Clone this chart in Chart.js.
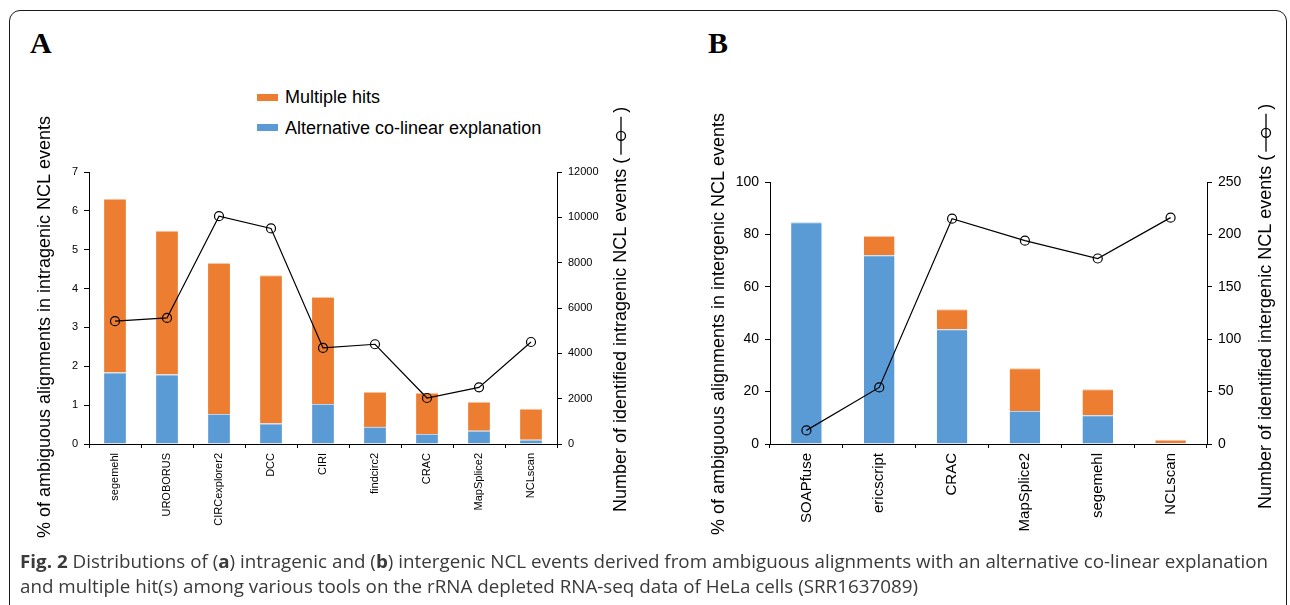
<!DOCTYPE html>
<html lang="en">
<head>
<meta charset="utf-8">
<title>Fig. 2</title>
<script src="https://cdn.jsdelivr.net/npm/chart.js@4.4.1/dist/chart.umd.min.js"></script>
<style>
    body { margin: 0; width: 1290px; height: 605px; overflow: hidden; position: relative; background: #fff; font-family: "Liberation Sans", Arial, sans-serif; color: #000; }
    #moldura { position: absolute; left: 9px; top: 10px; width: 1278px; height: 650px; border: 1.5px solid #1a1a1a; border-radius: 11px; box-sizing: border-box; }
    .letra { position: absolute; top: 28px; font-family: "Liberation Serif", "Times New Roman", serif; font-weight: bold; font-size: 30px; line-height: 30px; }
    .caixa { position: absolute; top: 100px; }
    .cor { position: absolute; left: 257px; width: 21px; height: 7px; }
    .rotulo { position: absolute; left: 285px; font-size: 18px; line-height: 20px; white-space: nowrap; }
    .legenda-fig { position: absolute; left: 20px; font-family: "Open Sans", sans-serif; font-size: 18px; line-height: 25px; color: #3a3a3a; white-space: nowrap; transform-origin: left center; }
</style>
</head>
<body>
<div id="moldura"></div>
<div class="letra" style="left:30px">A</div>
<div class="letra" style="left:708px">B</div>

<!-- legenda do painel A -->
<div class="cor" style="top:94px;background:#ED7D31"></div>
<div class="rotulo" style="top:87px">Multiple hits</div>
<div class="cor" style="top:124px;background:#5B9BD5"></div>
<div class="rotulo" style="top:118px">Alternative co-linear explanation</div>

<canvas id="graficoA" width="650" height="450" class="caixa" style="left:0"></canvas>
<canvas id="graficoB" width="640" height="450" class="caixa" style="left:650px"></canvas>

<div id="fig1" class="legenda-fig" style="top:549px"><b>Fig. 2</b> Distributions of (<b>a</b>) intragenic and (<b>b</b>) intergenic NCL events derived from ambiguous alignments with an alternative co-linear explanation</div>
<div id="fig2" class="legenda-fig" style="top:574px">and multiple hit(s) among various tools on the rRNA depleted RNA-seq data of HeLa cells (SRR1637089)</div>

<script>
// painel A - eventos intragênicos
const ferramentasA = ['segemehl', 'UROBORUS', 'CIRCexplorer2', 'DCC', 'CIRI', 'findcirc2', 'CRAC', 'MapSplice2', 'NCLscan'];
const colinearA = [1.84, 1.79, 0.77, 0.53, 1.03, 0.44, 0.26, 0.34, 0.11];
const multiplosA = [4.47, 3.70, 3.89, 3.81, 2.75, 0.90, 1.06, 0.75, 0.80];
const eventosA = [5420, 5560, 10050, 9510, 4240, 4400, 2030, 2500, 4500];
const ticksPctA = [0, 1, 2, 3, 4, 5, 6, 7];
const ticksEventosA = [0, 2000, 4000, 6000, 8000, 10000, 12000];

// painel B - eventos intergênicos
const ferramentasB = ['SOAPfuse', 'ericscript', 'CRAC', 'MapSplice2', 'segemehl', 'NCLscan'];
const colinearB = [84.6, 72.0, 43.8, 12.6, 11.0, 0.3];
const multiplosB = [0, 7.4, 7.6, 16.3, 9.9, 1.3];
const eventosB = [13, 54, 215, 194, 177, 216];
const ticksPctB = [0, 20, 40, 60, 80, 100];
const ticksEventosB = [0, 50, 100, 150, 200, 250];

const LARANJA = '#ED7D31';
const AZUL = '#5B9BD5';
const FONTE = '"Liberation Sans", Arial, sans-serif';

// desenha os títulos dos eixos (o da direita lê de baixo pra cima, com o símbolo da linha)
const titulosEixos = {
    id: 'titulosEixos',
    afterDraw(chart, args, opts) {
        const ctx = chart.ctx;
        ctx.save();
        ctx.fillStyle = '#000';
        ctx.font = '18px ' + FONTE;
        ctx.translate(opts.xEsq, opts.yEsq);
        ctx.rotate(-Math.PI / 2);
        ctx.textAlign = 'center';
        ctx.textBaseline = 'middle';
        ctx.fillText(opts.textoEsq, 0, 0);
        ctx.restore();

        ctx.save();
        ctx.fillStyle = '#000';
        ctx.strokeStyle = '#000';
        ctx.font = '18px ' + FONTE;
        ctx.translate(opts.xDir, opts.yDir);
        ctx.rotate(-Math.PI / 2);
        ctx.textAlign = 'left';
        ctx.textBaseline = 'middle';
        const texto = opts.textoDir + ' (';
        ctx.fillText(texto, 0, 0);
        const x = ctx.measureText(texto).width + 3;
        ctx.lineWidth = 1.3;
        ctx.beginPath();
        ctx.moveTo(x, 0);
        ctx.lineTo(x + 38, 0);
        ctx.stroke();
        ctx.beginPath();
        ctx.arc(x + 19, 0, 4.5, 0, Math.PI * 2);
        ctx.stroke();
        ctx.fillText(')', x + 42, 0);
        ctx.restore();
    }
};

function eixoY(posicao, valores, largura, tamFonte, empilhado) {
    return {
        position: posicao,
        stacked: empilhado,
        min: valores[0],
        max: valores[valores.length - 1],
        afterBuildTicks: function (s) {
            s.ticks = valores.map(v => ({ value: v }));
        },
        afterFit: function (s) {
            s.width = largura;
        },
        grid: { drawOnChartArea: false, drawTicks: true, tickLength: 5, color: '#000' },
        border: { color: '#000', width: 1 },
        ticks: {
            color: '#000',
            padding: 6,
            font: { family: FONTE, size: tamFonte },
            callback: v => String(v)
        }
    };
}

function montarGrafico(id, p) {
    var ctx = document.getElementById(id).getContext('2d');
    return new Chart(ctx, {
        type: 'bar',
        data: {
            labels: p.ferramentas,
            datasets: [
                {
                    type: 'line',
                    label: 'Number of identified NCL events',
                    data: p.eventos,
                    yAxisID: 'y1',
                    order: 0,
                    borderColor: '#000',
                    borderWidth: 1.2,
                    pointRadius: 4.5,
                    pointBorderWidth: 1.2,
                    pointBackgroundColor: 'rgba(0,0,0,0)',
                    pointBorderColor: '#000',
                    tension: 0
                },
                {
                    label: 'Alternative co-linear explanation',
                    data: p.colinear,
                    yAxisID: 'y',
                    order: 1,
                    backgroundColor: AZUL,
                    borderColor: '#B7D2EE',
                    borderWidth: { top: 1, left: 0, right: 0, bottom: 0 },
                    barPercentage: 0.42,
                    categoryPercentage: 1
                },
                {
                    label: 'Multiple hits',
                    data: p.multiplos,
                    yAxisID: 'y',
                    order: 1,
                    backgroundColor: LARANJA,
                    borderColor: '#F7C6A4',
                    borderWidth: { top: 1, left: 0, right: 0, bottom: 0 },
                    barPercentage: 0.42,
                    categoryPercentage: 1
                }
            ]
        },
        options: {
            responsive: false,
            animation: false,
            devicePixelRatio: 1,
            events: [],
            layout: { padding: { top: p.topo, left: 0, right: 0, bottom: 0 } },
            plugins: {
                legend: { display: false },
                tooltip: { enabled: false },
                titulosEixos: p.titulos
            },
            scales: {
                x: {
                    stacked: true,
                    offset: true,
                    afterFit: function (s) { s.height = 106; },
                    grid: { drawOnChartArea: false, drawTicks: true, tickLength: 4, color: '#000', offset: true },
                    border: { color: '#000', width: 1 },
                    ticks: {
                        color: '#000',
                        autoSkip: false,
                        minRotation: 90,
                        maxRotation: 90,
                        padding: 5,
                        font: { family: FONTE, size: p.fonteCat }
                    }
                },
                y: eixoY('left', p.ticksPct, p.largEsq, p.fonteTick, true),
                y1: eixoY('right', p.ticksEventos, p.largDir, p.fonteTick, false)
            }
        },
        plugins: [titulosEixos]
    });
}

// canvas começa em y=100 na página
montarGrafico('graficoA', {
    ferramentas: ferramentasA,
    colinear: colinearA,
    multiplos: multiplosA,
    eventos: eventosA,
    ticksPct: ticksPctA,
    ticksEventos: ticksEventosA,
    topo: 72,
    largEsq: 89,
    largDir: 93,
    fonteTick: 11,
    fonteCat: 11,
    titulos: {
        textoEsq: '% of ambiguous alignments in intragenic NCL events',
        xEsq: 45, yEsq: 227,
        textoDir: 'Number of identified intragenic NCL events',
        xDir: 621, yDir: 412
    }
});

montarGrafico('graficoB', {
    ferramentas: ferramentasB,
    colinear: colinearB,
    multiplos: multiplosB,
    eventos: eventosB,
    ticksPct: ticksPctB,
    ticksEventos: ticksEventosB,
    topo: 82,
    largEsq: 120,
    largDir: 83,
    fonteTick: 14,
    fonteCat: 15,
    titulos: {
        textoEsq: '% of ambiguous alignments in intergenic NCL events',
        xEsq: 69, yEsq: 224,
        textoDir: 'Number of identified intergenic NCL events',
        xDir: 616, yDir: 409
    }
});

// ajusta a largura da legenda da figura (a fonte original é mais estreita)
var linha1 = document.getElementById('fig1');
var linha2 = document.getElementById('fig2');
var escala = 1248 / linha1.getBoundingClientRect().width;
linha1.style.transform = 'scaleX(' + escala + ')';
linha2.style.transform = 'scaleX(' + escala + ')';
</script>
</body>
</html>
